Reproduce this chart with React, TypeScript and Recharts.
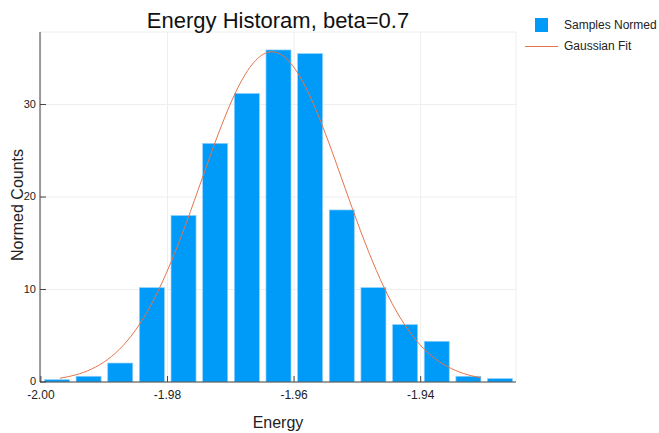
import React from 'react';
import { ComposedChart, Bar, Line, XAxis, YAxis, CartesianGrid } from 'recharts';

// histogram bins (bin centres) and normed counts
const binCenters = [
  -1.9975, -1.9925, -1.9875, -1.9825, -1.9775, -1.9725, -1.9675, -1.9625,
  -1.9575, -1.9525, -1.9475, -1.9425, -1.9375, -1.9325, -1.9275,
];
const sampleCounts = [0.25, 0.62, 2.05, 10.2, 18.0, 25.8, 31.2, 35.9, 35.5, 18.6, 10.2, 6.2, 4.4, 0.62, 0.37];

// gaussian fit curve
const fitX = [
  -1.997, -1.9945, -1.992, -1.9895, -1.987, -1.9845, -1.982, -1.9795, -1.977, -1.9745,
  -1.972, -1.9695, -1.967, -1.9645, -1.9635, -1.962, -1.9595, -1.957, -1.9545, -1.952,
  -1.9495, -1.947, -1.9445, -1.942, -1.9395, -1.937, -1.9345, -1.932, -1.9305,
];
const fitY = [
  0.41, 0.77, 1.4, 2.41, 3.95, 6.15, 9.12, 12.87, 17.26, 22.04,
  26.77, 30.93, 34.0, 35.56, 35.7, 35.38, 33.49, 30.17, 25.85, 21.07,
  16.34, 12.06, 8.47, 5.66, 3.59, 2.17, 1.25, 0.68, 0.46,
];

const xTicks = [-2.0, -1.98, -1.96, -1.94];
const yTicks = [0, 10, 20, 30];

const BLUE = '#009af9';
const ORANGE = '#e4744c';
const AXIS = '#444';
const TEXT = '#222';
const FONT = '"Liberation Sans", Arial, Helvetica, sans-serif';
const BAR_W = 25;

const barData = binCenters.map((x, i) => ({ x, count: sampleCounts[i] }));
const fitData = fitX.map((x, i) => ({ x, fit: fitY[i] }));

// recharts squeezes bars on a number axis, so draw them at a fixed width around the bin centre
const HistBar = (props: any) => {
  const { x, y, width, height } = props;
  if (height == null || height <= 0) return null;
  const cx = x + width / 2;
  return (
    <rect
      x={cx - BAR_W / 2}
      y={y}
      width={BAR_W}
      height={height}
      fill={BLUE}
      stroke="#8fd0fb"
      strokeWidth={0.7}
    />
  );
};

// tick label plus a short tick mark pointing into the plot
const XTick = (props: any) => {
  const { x, y, payload } = props;
  return (
    <g>
      <line x1={x} x2={x} y1={y - 8} y2={y - 14} stroke={AXIS} />
      <text x={x} y={y} dy="0.71em" textAnchor="middle" fontSize={12} fill={TEXT} fontFamily={FONT}>
        {Number(payload.value).toFixed(2)}
      </text>
    </g>
  );
};

const YTick = (props: any) => {
  const { x, y, payload } = props;
  return (
    <g>
      <line x1={x + 4} x2={x + 10} y1={y} y2={y} stroke={AXIS} />
      <text x={x} y={y} dy="0.3em" textAnchor="end" fontSize={11} fill={TEXT} fontFamily={FONT}>
        {payload.value}
      </text>
    </g>
  );
};

const App: React.FC = () => {
  return (
    <div style={{ position: 'absolute', left: 0, top: 0, width: 659, height: 433, background: '#fff', fontFamily: FONT }}>
      <ComposedChart
        width={659}
        height={433}
        data={barData}
        margin={{ top: 32, right: 143, left: 10, bottom: 0 }}
      >
        <CartesianGrid stroke="#eeeeee" strokeWidth={1} />
        <XAxis
          dataKey="x"
          type="number"
          domain={[-2.00014, -1.92494]}
          ticks={xTicks}
          allowDataOverflow
          tick={<XTick />}
          tickLine={false}
          tickSize={0}
          tickMargin={8}
          axisLine={{ stroke: AXIS }}
          height={51}
          label={{ value: 'Energy', position: 'insideBottom', offset: 5, fontSize: 16, fill: TEXT, fontFamily: FONT }}
        />
        <YAxis
          type="number"
          domain={[0, 37.84]}
          ticks={yTicks}
          allowDataOverflow
          tick={<YTick />}
          tickLine={false}
          tickSize={0}
          tickMargin={4}
          axisLine={{ stroke: AXIS }}
          width={30}
        />
        <Bar dataKey="count" fill={BLUE} shape={HistBar} isAnimationActive={false} />
        <Line
          data={fitData}
          dataKey="fit"
          type="monotone"
          stroke={ORANGE}
          strokeWidth={1}
          dot={false}
          isAnimationActive={false}
        />
      </ComposedChart>

      <div style={{ position: 'absolute', left: 40, width: 476, top: 10, textAlign: 'center', fontSize: 22, lineHeight: '22px', color: '#111', whiteSpace: 'nowrap' }}>
        Energy Historam, beta=0.7
      </div>

      <div
        style={{
          position: 'absolute',
          left: 17.5,
          top: 205,
          transform: 'translate(-50%, -50%) rotate(-90deg)',
          whiteSpace: 'nowrap',
          fontSize: 16,
          lineHeight: '16px',
          color: TEXT,
        }}
      >
        Normed Counts
      </div>

      <div style={{ position: 'absolute', left: 535, top: 18, width: 13, height: 14, background: BLUE }} />
      <div style={{ position: 'absolute', left: 564, top: 18, fontSize: 12, lineHeight: '14px', color: TEXT, whiteSpace: 'nowrap' }}>
        Samples Normed
      </div>
      <div style={{ position: 'absolute', left: 525, top: 46, width: 33, height: 1, background: ORANGE }} />
      <div style={{ position: 'absolute', left: 564, top: 39, fontSize: 12, lineHeight: '14px', color: TEXT, whiteSpace: 'nowrap' }}>
        Gaussian Fit
      </div>
    </div>
  );
};

export default App;
